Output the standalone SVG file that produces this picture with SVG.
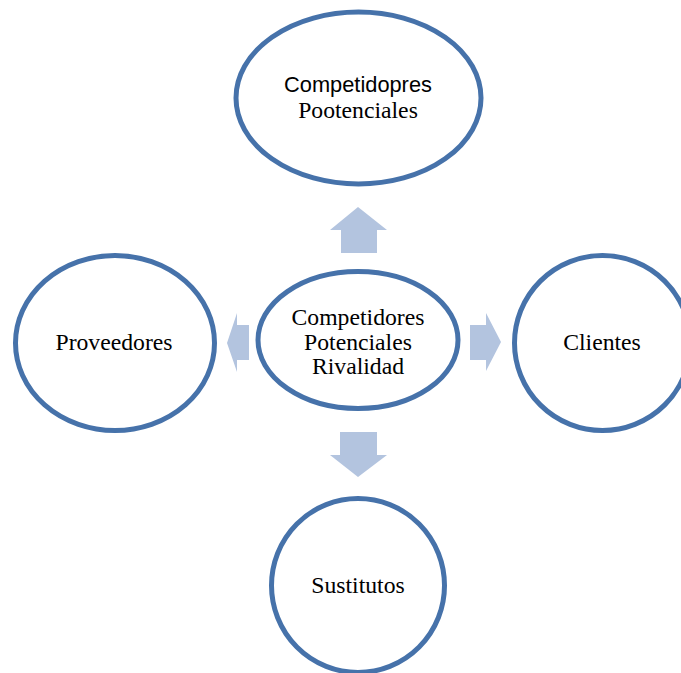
<svg xmlns="http://www.w3.org/2000/svg" width="681" height="673" viewBox="0 0 681 673">
  <style>
    .node { fill: #ffffff; stroke: #4672aa; stroke-width: 5; }
    .lbl { font-family: "Liberation Serif", "Times New Roman", serif; font-size: 23.7px; fill: #000000; text-anchor: middle; }
    .sans { font-family: "Liberation Sans", Arial, sans-serif; font-size: 21.8px; }
    .arrow { fill: #b3c4df; stroke: none; }
  </style>
  <rect width="681" height="673" fill="#ffffff"/>

  <!-- block arrows pointing outward from the centre -->
  <g id="connectors">
    <polygon class="arrow" points="358,207 387,230 377,230 377,253 341,253 341,230 330,230"/>
    <polygon class="arrow" points="358,477 387,455 377,455 377,432 340,432 340,455 330,455"/>
    <polygon class="arrow" points="227,343 237,313 237,325 249,325 249,360 237,360 237,372"/>
    <polygon class="arrow" points="501,342 486,313 486,325 470,325 470,360 486,360 486,371"/>
  </g>

  <g id="top">
    <ellipse class="node" cx="358.5" cy="98" rx="122.5" ry="86"/>
    <text class="lbl sans" x="358" y="92">Competidopres</text>
    <text class="lbl" x="358" y="118">Pootenciales</text>
  </g>

  <g id="center">
    <ellipse class="node" cx="358" cy="340" rx="100" ry="68.5"/>
    <text class="lbl" x="358" y="325">Competidores</text>
    <text class="lbl" x="358" y="350">Potenciales</text>
    <text class="lbl" x="358" y="374">Rivalidad</text>
  </g>

  <g id="left">
    <ellipse class="node" cx="115" cy="343" rx="99.5" ry="87.5"/>
    <text class="lbl" x="114" y="350">Proveedores</text>
  </g>

  <g id="right">
    <ellipse class="node" cx="602.5" cy="343" rx="88" ry="87.5"/>
    <text class="lbl" x="602" y="350">Clientes</text>
  </g>

  <g id="bottom">
    <ellipse class="node" cx="358" cy="585.5" rx="86.5" ry="87"/>
    <text class="lbl" x="358" y="593">Sustitutos</text>
  </g>
</svg>
